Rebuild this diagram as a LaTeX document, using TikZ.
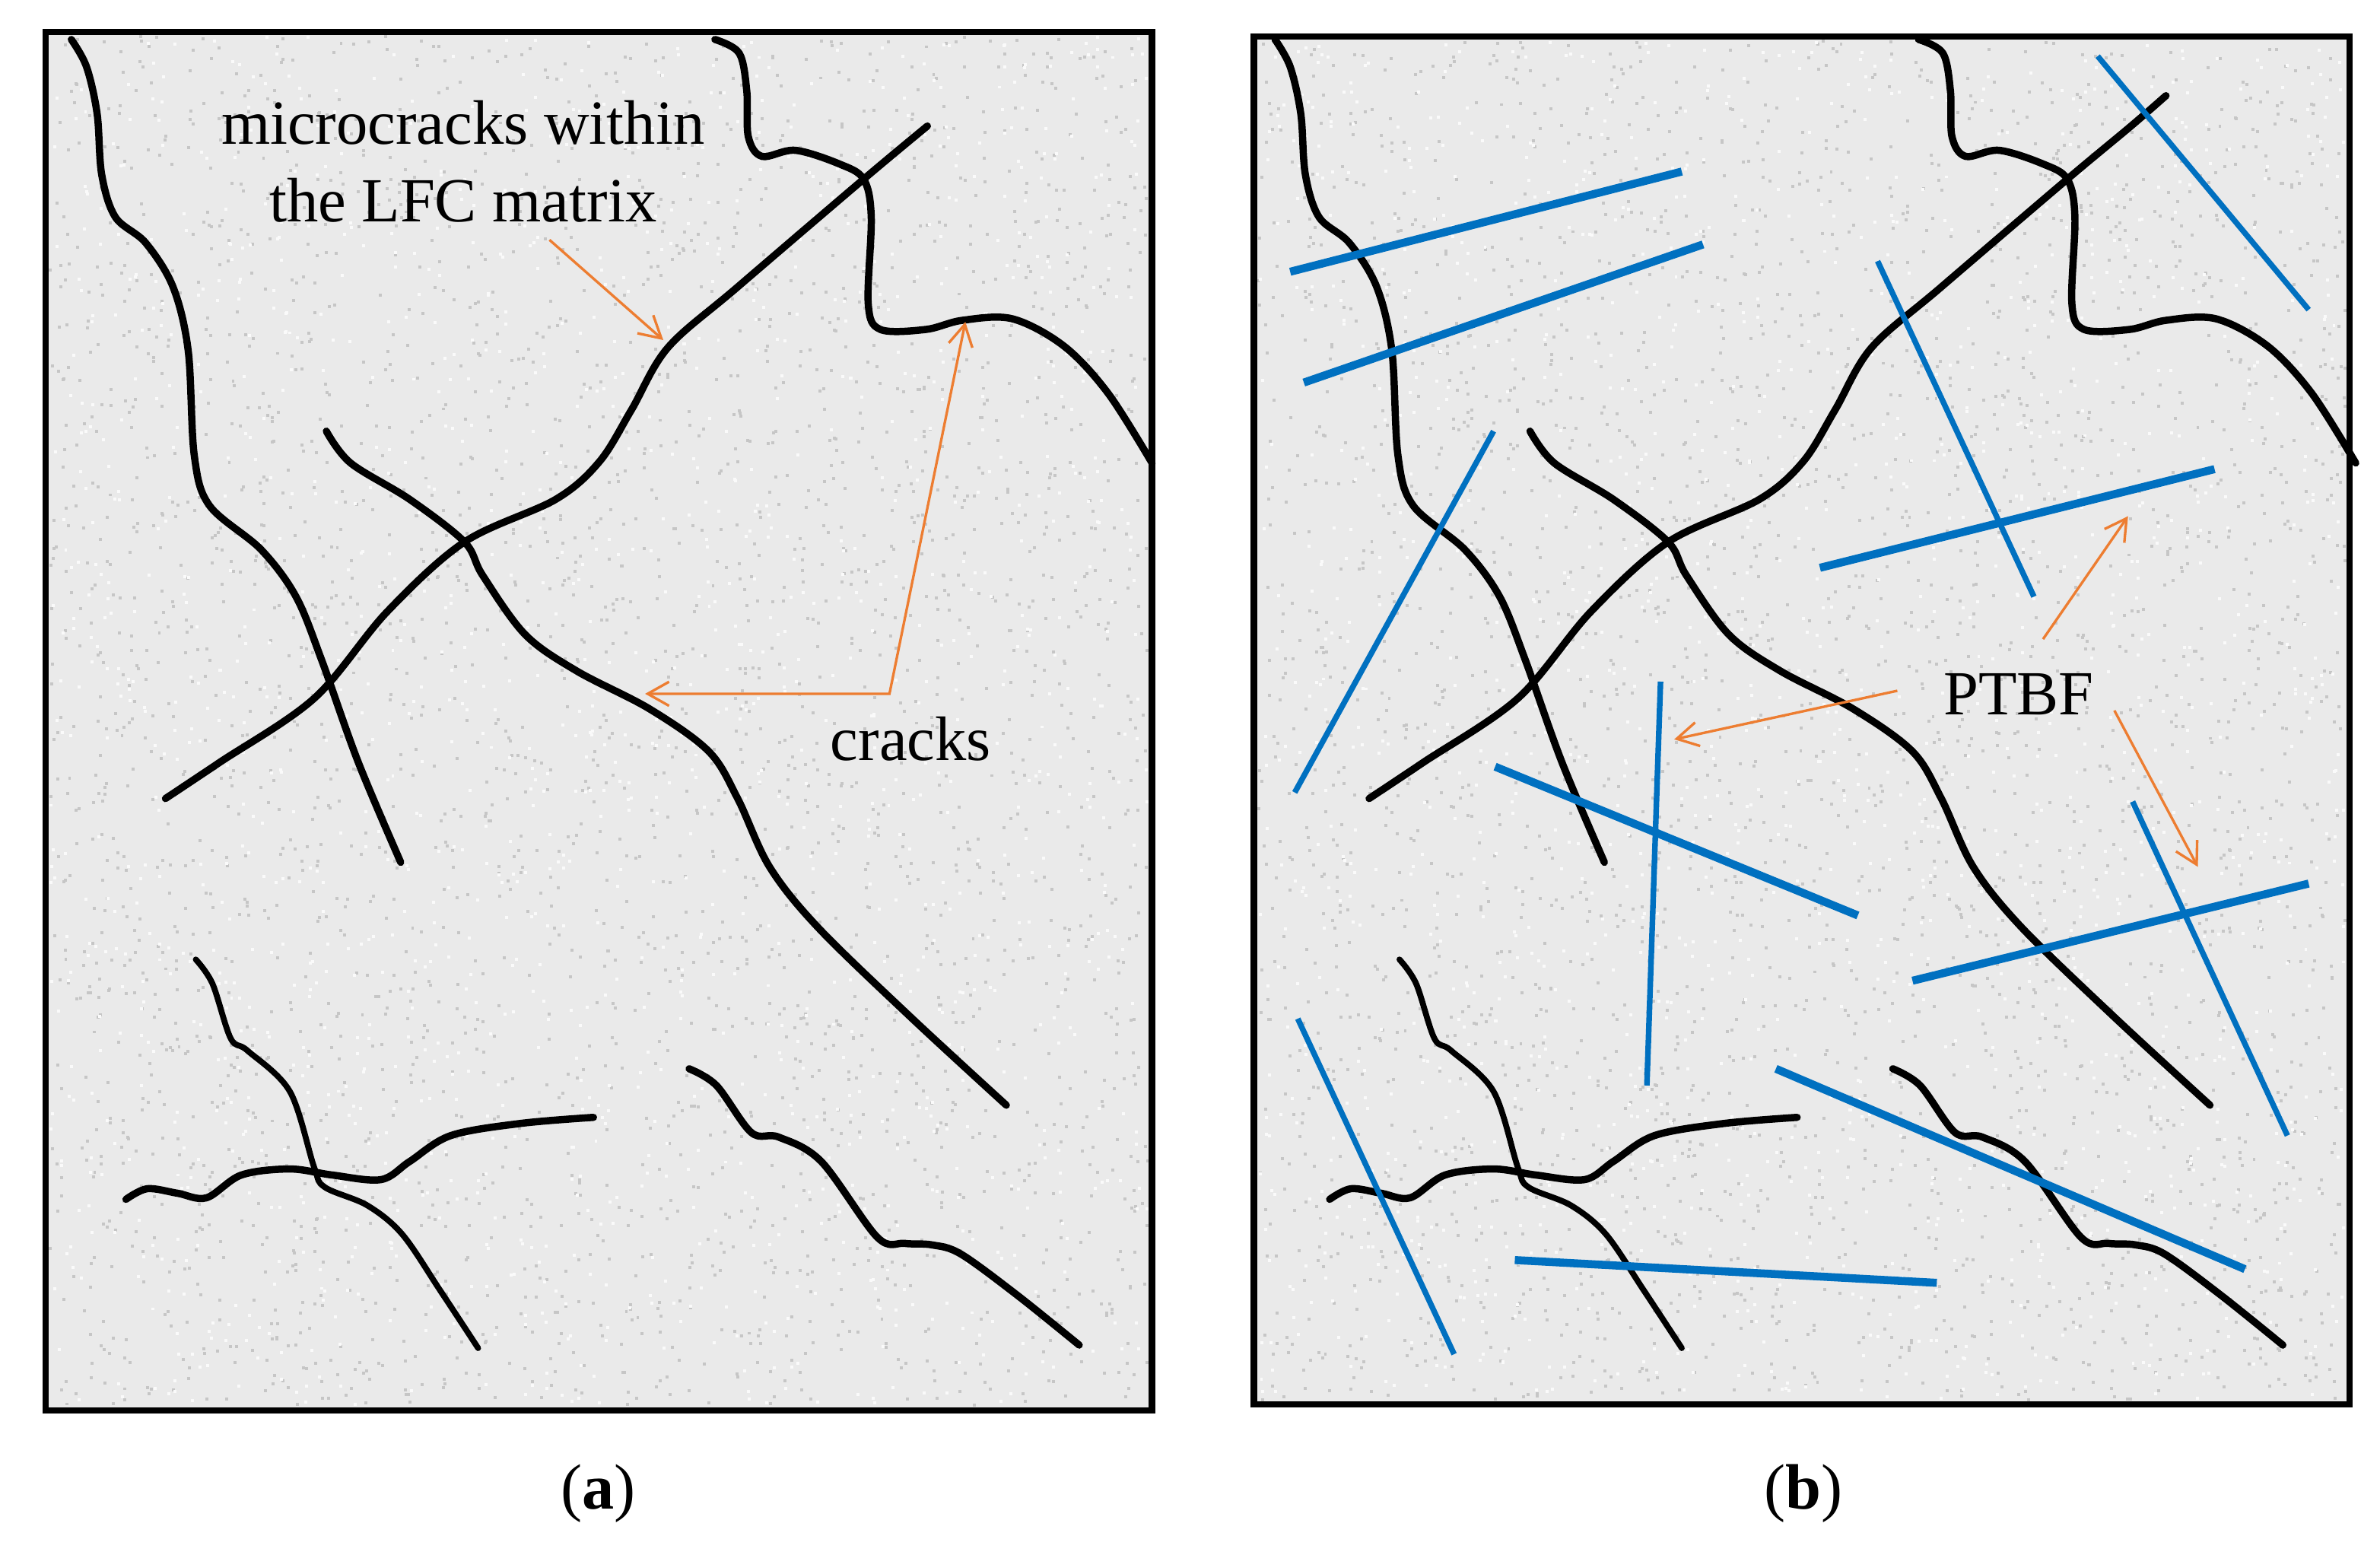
\documentclass[tikz,border=0pt]{standalone}
\usepackage{fontspec}
\setmainfont{Liberation Serif}
\usetikzlibrary{arrows.meta}
\definecolor{crackorange}{RGB}{237,125,49}
\definecolor{fiberblue}{RGB}{0,112,192}
\definecolor{matrixgray}{RGB}{234,234,234}
\definecolor{speckgray}{RGB}{198,198,198}
\definecolor{specklight}{RGB}{250,250,250}
\tikzset{barb/.tip={Straight Barb[length=8pt,width=9pt]}}
\newcommand{\crackset}[1]{%
  % A
  \draw[crack] plot[smooth,tension=0.55] coordinates {(47,26) (57,44) (64,75) (67,115) (76,143) (96,160) (114,189) (124,231) (128,300) (138,333) (172,362) (195,393) (212,435) (236,502) (264,568)};
  % B
  \draw[crack] plot[smooth,tension=0.55] coordinates {(109,526) (145,502) (207,460) (255,403) (306,357) (366,329) (395,304) (416,270) (440,229) (486,189) (569,118) (611,83) #1};
  % C
  \draw[crack] plot[smooth,tension=0.55] coordinates {(471,26) (487,35) (492,60) (493,90) (502,103) (524,99) (553,108) (569,118) (574,143) (572,200) (580,217) (610,217) (634,211) (667,210) (701,228) (730,259) (759,305)};
  % D
  \draw[crack] plot[smooth,tension=0.55] coordinates {(215,284) (231,305) (270,329) (306,357) (318,379) (346,418) (380,442) (428,467) (467,495) (486,526) (507,571) (539,611) (600,670) (663,728)};
  % E
  \draw[thincrack] plot[smooth,tension=0.55] coordinates {(129,632) (140,648) (152,684) (163,692) (191,719) (207,769) (214,782) (242,794) (265,813) (290,850) (315,888)};
  % F
  \draw[crack] plot[smooth,tension=0.55] coordinates {(83,790) (97,783) (117,786) (136,789) (159,774) (191,770) (219,774) (251,777) (270,765) (297,748) (343,740) (391,736)};
  % G
  \draw[crack] plot[smooth,tension=0.55] coordinates {(454,704) (472,715) (495,746) (513,749) (541,765) (578,815) (596,819) (614,820) (633,826) (670,853) (711,886)};
}
\newcommand{\specks}[6]{% x0 y0 w h count colour
  \foreach \i in {1,...,#5}{
    \pgfmathsetmacro{\px}{#1+#3*rnd}
    \pgfmathsetmacro{\py}{#2+#4*rnd}
    \fill[#6] (\px,\py) rectangle ++(2,2);
  }}
\begin{document}
\begin{tikzpicture}[x=0.019955cm, y=-0.019955cm,
  crack/.style={draw=black, line width=2.7pt, line cap=round, line join=round},
  thincrack/.style={crack, line width=2.2pt},
  fiber/.style={draw=fiberblue, line width=3pt},
  thinfiber/.style={draw=fiberblue, line width=2.1pt},
  callout/.style={draw=crackorange, line width=0.95pt},
  annot/.style={font=\fontsize{23.5}{28}\selectfont, inner sep=0pt, anchor=base},
  captext/.style={font=\fontsize{24}{28}\selectfont, inner sep=0pt, anchor=base},
]
\useasboundingbox (0,0) rectangle (1568,1024);
\fill[white] (0,0) rectangle (1568,1024);

% panels
\fill[matrixgray] (30,21) rectangle (759,929);
\fill[matrixgray] (826,24) rectangle (1548,925);
\pgfmathsetseed{42}
\specks{32}{23}{723}{902}{3000}{speckgray}
\specks{32}{23}{723}{902}{1600}{specklight}
\specks{828}{26}{716}{895}{3000}{speckgray}
\specks{828}{26}{716}{895}{1600}{specklight}

% (a) cracks
\crackset{}
% (b) cracks
\begin{scope}[shift={(793,0)}]
  \crackset{(634,63)}
\end{scope}

% fibres
\draw[fiber] (850,179) -- (1108,113);
\draw[fiber] (859,252) -- (1122,161);
\draw[thinfiber] (853,522) -- (984,284);
\draw[thinfiber] (1237,172) -- (1340,393);
\draw[thinfiber] (1382,37) -- (1521,204);
\draw[fiber] (1199,374) -- (1459,309);
\draw[fiber] (985,505) -- (1224,603);
\draw[thinfiber] (1094,449) -- (1085,715);
\draw[fiber] (1260,646) -- (1521,582);
\draw[thinfiber] (1405,528) -- (1507,748);
\draw[thinfiber] (855,671) -- (958,892);
\draw[fiber] (1170,704) -- (1479,836);
\draw[fiber] (998,830) -- (1276,845);

% frames
\draw[line width=2.4pt] (30,21) rectangle (759,929);
\draw[line width=2.4pt] (826,24) rectangle (1548,925);

% labels
\node[annot] (lfcA) at (305,95) {microcracks within};
\node[annot] (lfcB) at (305,146) {the LFC matrix};
\node[annot] (cracks) at (600,501) {cracks};
\node[annot] (ptbf) at (1330,471) {PTBF};
\node[captext] (capa) at (394,994) {(\textbf{a})};
\node[captext] (capb) at (1188,994) {(\textbf{b})};

% callouts
\coordinate (mcStart) at (362,158);
\coordinate (mcTip) at (437,224);
\draw[callout, -barb] (mcStart) -- (mcTip);
\coordinate (crLeft) at (425,457);
\coordinate (crCorner) at (586,457);
\coordinate (crTop) at (636,212);
\draw[callout, barb-barb] (crLeft) -- (crCorner) -- (crTop);
\coordinate (pUpS) at (1346,421);
\coordinate (pUpT) at (1402,340);
\coordinate (pLeS) at (1250,455);
\coordinate (pLeT) at (1103,487);
\coordinate (pDnS) at (1393,468);
\coordinate (pDnT) at (1448,571);
\draw[callout, -barb] (pUpS) -- (pUpT);
\draw[callout, -barb] (pLeS) -- (pLeT);
\draw[callout, -barb] (pDnS) -- (pDnT);
\end{tikzpicture}
\end{document}
